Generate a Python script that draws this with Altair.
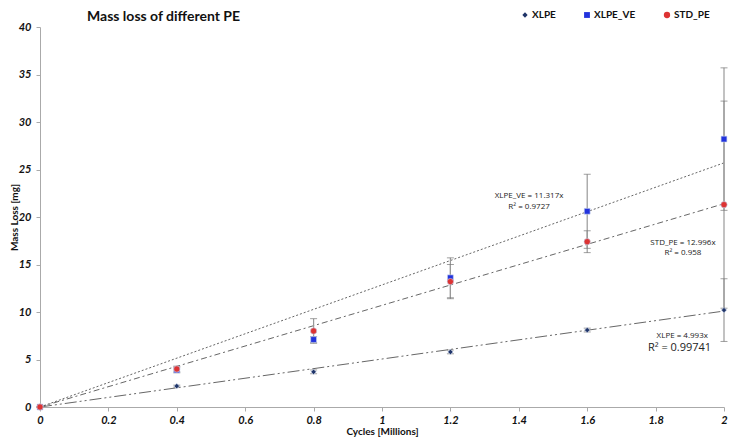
import altair as alt
import pandas as pd

# ---- data ----
cycles = [0, 0.4, 0.8, 1.2, 1.6, 2.0]
series_names = ["XLPE", "XLPE_VE", "STD_PE"]
xlpe = [0, 2.2, 3.7, 5.8, 8.1, 10.2]
xlpe_ve = [0, 3.9, 7.1, 13.6, 20.6, 28.2]
std_pe = [0, 4.0, 8.0, 13.2, 17.4, 21.3]
xlpe_err = [0, 0.1, 0.2, 0.2, 0.2, 3.3]
xlpe_ve_err = [0, 0.3, 0.3, 2.1, 3.9, 7.5]
std_pe_err = [0, 0.3, 1.3, 1.8, 1.15, 10.9]

# trend lines (y = slope * x), as drawn
trend_names = ["upper", "middle", "lower"]
trend_slopes = [12.85, 10.7, 5.05]
trend_x = [0, 2.0]

# annotation texts and their anchor in data units
ann_text = ["XLPE_VE = 11.317x", "R² = 0.9727", "STD_PE = 12.996x", "R² = 0.958",
            "XLPE = 4.993x", "R² = 0.99741"]
ann_x = [1.43, 1.43, 1.88, 1.88, 1.878, 1.87]
ann_y = [22.2, 21.1, 17.3, 16.25, 7.45, 6.2]
ann_size = [8, 8, 8, 8, 8, 11]

chart_title = ["Mass loss of different PE"]

x_ticks = [0, 0.2, 0.4, 0.6, 0.8, 1.0, 1.2, 1.4, 1.6, 1.8, 2.0]
y_ticks = [0, 5, 10, 15, 20, 25, 30, 35, 40]

colors = ["#1f3468", "#2233dd", "#dd3333"]
shapes = ["diamond", "square", "circle"]
sizes = [28, 40, 55]

rows = []
for name, vals, errs in zip(series_names, [xlpe, xlpe_ve, std_pe], [xlpe_err, xlpe_ve_err, std_pe_err]):
    for c, v, e in zip(cycles, vals, errs):
        rows.append({"series": name, "cycles": c, "loss": v, "lo": v - e, "hi": v + e})
df = pd.DataFrame(rows)

trows = []
for n, s in zip(trend_names, trend_slopes):
    for xv in trend_x:
        trows.append({"trend": n, "cycles": xv, "loss": s * xv})
tdf = pd.DataFrame(trows)

adf = pd.DataFrame({"text": ann_text, "cycles": ann_x, "loss": ann_y, "size": ann_size})
ttl = pd.DataFrame({"text": chart_title})

FONT = "Lato"

xscale = alt.Scale(domain=[0, 2], nice=False, zero=True)
yscale = alt.Scale(domain=[0, 40], nice=False)

xax = alt.Axis(values=x_ticks, format="~g", title="Cycles [Millions]", grid=False,
               labelFont=FONT, labelFontWeight="bold", labelFontStyle="italic", labelFontSize=11,
               labelColor="#111", domainColor="#aaaaaa", tickColor="#aaaaaa", tickSize=4,
               titleFont=FONT, titleFontSize=10, titleFontWeight="bold", titleColor="#111",
               titlePadding=1, labelPadding=3, labelFlush=False)
yax = alt.Axis(values=y_ticks, title="Mass Loss  [mg]", grid=False,
               labelFont=FONT, labelFontWeight="bold", labelFontStyle="italic", labelFontSize=11,
               labelColor="#111", domainColor="#aaaaaa", tickColor="#aaaaaa", tickSize=4,
               titleFont=FONT, titleFontSize=10, titleFontWeight="bold", titleColor="#111",
               titleX=-21, labelPadding=5)

base = alt.Chart(df)

lines = alt.Chart(tdf).mark_line(color="#555555", strokeWidth=0.9).encode(
    x=alt.X("cycles:Q", scale=xscale, axis=xax),
    y=alt.Y("loss:Q", scale=yscale, axis=yax),
    strokeDash=alt.StrokeDash("trend:N", scale=alt.Scale(domain=trend_names,
                              range=[[2, 2], [6, 3, 2, 3], [12, 3, 2, 3, 2, 3]]), legend=None),
    detail="trend:N",
)

err = base.mark_rule(color="#999999", strokeWidth=1.2).encode(
    x="cycles:Q", y="lo:Q", y2="hi:Q")
cap_lo = base.mark_tick(color="#777777", orient="horizontal", size=7, thickness=1).encode(
    x="cycles:Q", y="lo:Q")
cap_hi = base.mark_tick(color="#777777", orient="horizontal", size=7, thickness=1).encode(
    x="cycles:Q", y="hi:Q")

pts = base.mark_point(filled=True, opacity=1, stroke="#c8d4ee", strokeWidth=0.6).encode(
    x="cycles:Q",
    y="loss:Q",
    color=alt.Color("series:N", scale=alt.Scale(domain=series_names, range=colors),
                    legend=alt.Legend(title=None, orient="none", direction="horizontal",
                                      legendX=480, legendY=-17, columnPadding=26,
                                      labelFont=FONT, labelFontSize=10, labelFontWeight="bold",
                                      labelColor="#111", symbolSize=40, labelOffset=2,
                                      symbolStrokeWidth=0)),
    shape=alt.Shape("series:N", scale=alt.Scale(domain=series_names, range=shapes)),
    size=alt.Size("series:N", scale=alt.Scale(domain=series_names, range=sizes), legend=None),
    order=alt.Order("order:Q"),
).transform_calculate(order="indexof(['XLPE','XLPE_VE','STD_PE'], datum.series)")

ann = alt.Chart(adf).mark_text(font="Open Sans", color="#222", align="center", baseline="middle").encode(
    x="cycles:Q", y="loss:Q", text="text:N",
    size=alt.Size("size:Q", scale=None, legend=None),
)

title_mark = alt.Chart(ttl).mark_text(font=FONT, fontSize=14, fontWeight="bold", color="#111",
                                      align="left", baseline="middle").encode(
    x=alt.value(47), y=alt.value(-10), text="text:N")

chart = alt.layer(lines, err, cap_lo, cap_hi, pts, ann, title_mark).properties(
    width=684, height=380,
    autosize=alt.AutoSizeParams(type="none"),
    padding={"left": 32, "top": 19, "right": 4, "bottom": 31},
).configure_view(stroke=None)

chart.save("out.html", embed_options={"renderer": "svg", "actions": False})
